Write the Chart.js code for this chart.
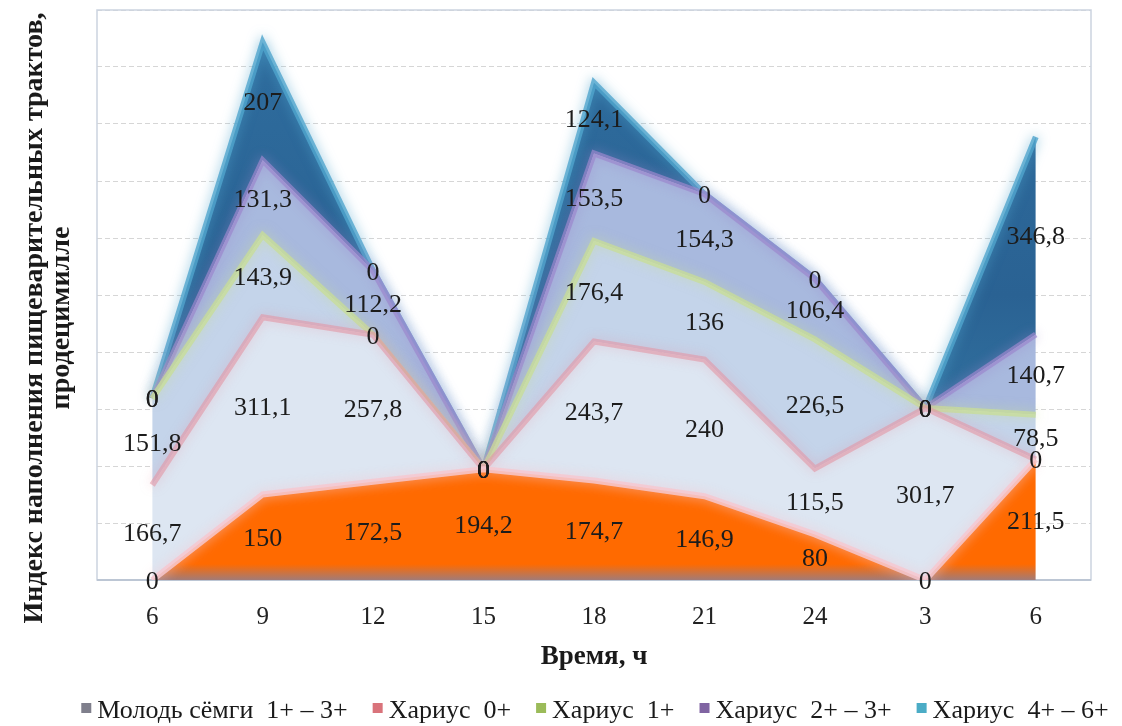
<!DOCTYPE html>
<html>
<head>
<meta charset="utf-8">
<script src="https://cdn.jsdelivr.net/npm/chart.js@4.4.1/dist/chart.umd.min.js"></script>
<style>
  html, body { margin: 0; padding: 0; background: #ffffff; }
  #wrap { width: 1122px; height: 726px; position: relative; }
</style>
</head>
<body>
<div id="wrap"><canvas id="c" width="1122" height="726"></canvas></div>
<script>
// Time of sampling, hours
const hours = ['6', '9', '12', '15', '18', '21', '24', '3', '6'];

// Feeding index by group (stacked)
const salmonYoung = [0, 150, 172.5, 194.2, 174.7, 146.9, 80, 0, 211.5];
const grayling0   = [166.7, 311.1, 257.8, 0, 243.7, 240, 115.5, 301.7, 0];
const grayling1   = [151.8, 143.9, 0, 0, 176.4, 136, 226.5, 0, 78.5];
const grayling2_3 = [0, 131.3, 112.2, 0, 153.5, 154.3, 106.4, 0, 140.7];
const grayling4_6 = [0, 207, 0, 0, 124.1, 0, 0, 0, 346.8];

const seriesNames = ['Молодь сёмги  1+ – 3+', 'Хариус  0+', 'Хариус  1+', 'Хариус  2+ – 3+', 'Хариус  4+ – 6+'];
const yTitleLines = ['Индекс наполнения пищеварительных трактов,', 'продецимилле'];
const xTitle = 'Время, ч';

const stackedSeries = [salmonYoung, grayling0, grayling1, grayling2_3, grayling4_6];

const serif = "'Times New Roman', 'Liberation Serif', serif";
const legendColors = ['#7f7f8c', '#d9737b', '#9bbb59', '#8064a2', '#4bacc6'];
const edgeColors = [
  'rgba(246,200,208,0.85)',
  'rgba(226,150,165,0.6)',
  'rgba(200,222,150,0.75)',
  'rgba(155,135,205,0.7)',
  'rgba(80,165,205,0.8)'
];

function orangeFill(context) {
  const chart = context.chart;
  const a = chart.chartArea;
  if (!a) return '#ff6a00';
  const g = chart.ctx.createLinearGradient(0, a.bottom - 16, 0, a.bottom);
  g.addColorStop(0, '#ff6a00');
  g.addColorStop(1, '#a27b78');
  return g;
}
function tealFill(context) {
  const chart = context.chart;
  const a = chart.chartArea;
  if (!a) return '#2f6b9c';
  const g = chart.ctx.createLinearGradient(0, a.top, 0, a.bottom);
  g.addColorStop(0, '#2f6e9f');
  g.addColorStop(0.5, '#2a6293');
  g.addColorStop(1, '#3b86b0');
  return g;
}
const fills = [orangeFill, '#dde6f2', '#c4d4ea', '#a8b9de', tealFill];

function fmt(v) { return String(v).replace('.', ','); }

// soft glow along each band's upper edge
const edgeGlow = {
  id: 'edgeGlow',
  beforeDatasetDraw(chart, args) {
    const ds = chart.data.datasets[args.index];
    chart.ctx.save();
    chart.ctx.shadowColor = ds.borderColor;
    chart.ctx.shadowBlur = 12;
  },
  afterDatasetDraw(chart) {
    chart.ctx.restore();
  }
};

// light frame round the plot area
const plotFrame = {
  id: 'plotFrame',
  beforeDatasetsDraw(chart) {
    const { ctx, chartArea: a } = chart;
    ctx.save();
    ctx.strokeStyle = '#cbd3df';
    ctx.lineWidth = 1.5;
    ctx.strokeRect(a.left, a.top, a.right - a.left, a.bottom - a.top);
    ctx.strokeStyle = '#bcc6d4';
    ctx.lineWidth = 2;
    ctx.beginPath();
    ctx.moveTo(a.left, a.bottom);
    ctx.lineTo(a.right, a.bottom);
    ctx.stroke();
    ctx.restore();
  }
};

// value of each band written at the middle of the band
const bandLabels = {
  id: 'bandLabels',
  afterDatasetsDraw(chart) {
    const { ctx, scales: { x, y } } = chart;
    ctx.save();
    ctx.font = '26px ' + serif;
    ctx.fillStyle = '#1c1c1c';
    ctx.textAlign = 'center';
    ctx.textBaseline = 'middle';
    hours.forEach((h, i) => {
      let base = 0;
      stackedSeries.forEach(arr => {
        const v = arr[i];
        const py = y.getPixelForValue(base + v / 2);
        ctx.fillText(fmt(v), x.getPixelForValue(i), py + 2);
        base += v;
      });
    });
    ctx.restore();
  }
};

// axis titles and legend
const titlesAndLegend = {
  id: 'titlesAndLegend',
  afterDraw(chart) {
    const { ctx, chartArea: a } = chart;
    ctx.save();
    ctx.fillStyle = '#1a1a1a';
    ctx.textAlign = 'center';
    ctx.textBaseline = 'middle';

    ctx.font = 'bold 27px ' + serif;
    ctx.fillText(xTitle, (a.left + a.right) / 2, 657);

    ctx.font = 'bold 28px ' + serif;
    const xs = [35, 62];
    yTitleLines.forEach((line, k) => {
      ctx.save();
      ctx.translate(xs[k], 318);
      ctx.rotate(-Math.PI / 2);
      ctx.fillText(line, 0, 0);
      ctx.restore();
    });

    ctx.font = '26px ' + serif;
    ctx.textAlign = 'left';
    ctx.textBaseline = 'alphabetic';
    const box = 10, gap = 6, spacing = 25;
    const widths = seriesNames.map(s => ctx.measureText(s).width);
    const total = widths.reduce((s, w) => s + box + gap + w, 0) + spacing * (seriesNames.length - 1);
    let cx = 595 - total / 2;
    seriesNames.forEach((name, i) => {
      ctx.fillStyle = legendColors[i];
      ctx.fillRect(cx, 703, box, box);
      ctx.fillStyle = '#1a1a1a';
      ctx.fillText(name, cx + box + gap, 718);
      cx += box + gap + widths[i] + spacing;
    });
    ctx.restore();
  }
};

new Chart(document.getElementById('c'), {
  type: 'line',
  data: {
    labels: hours,
    datasets: stackedSeries.map((data, i) => ({
      label: seriesNames[i],
      data: data,
      fill: i === 0 ? 'origin' : '-1',
      backgroundColor: fills[i],
      borderColor: edgeColors[i],
      borderWidth: 6,
      pointRadius: 0,
      tension: 0
    }))
  },
  options: {
    responsive: false,
    animation: false,
    events: [],
    layout: { padding: { top: 10, right: 31, bottom: 86, left: 0 } },
    plugins: {
      legend: { display: false },
      tooltip: { enabled: false },
      title: { display: false }
    },
    scales: {
      x: {
        offset: true,
        grid: { display: false, drawTicks: false },
        border: { display: false },
        ticks: { color: '#222222', font: { family: serif, size: 25 }, padding: 22, maxRotation: 0 },
        afterFit(s) { s.height = 60; }
      },
      y: {
        stacked: true,
        min: 0,
        max: 1000,
        ticks: { display: false, stepSize: 100 },
        grid: { color: '#d6d6d6', lineWidth: 1, drawTicks: false },
        border: { display: false, dash: [5, 3] },
        afterFit(s) { s.width = 97; }
      }
    }
  },
  plugins: [edgeGlow, plotFrame, bandLabels, titlesAndLegend]
});
</script>
</body>
</html>
